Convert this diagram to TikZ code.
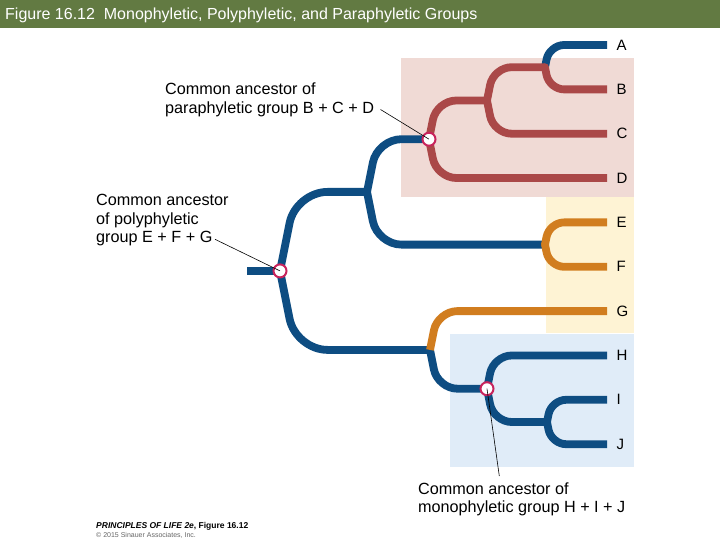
\documentclass[tikz,border=0pt]{standalone}
\usepackage{fontspec}
\setmainfont{Liberation Sans}
\usetikzlibrary{calc}
\definecolor{cblue}{HTML}{0E4D82}
\definecolor{cred}{HTML}{AA4848}
\definecolor{corange}{HTML}{D17D1F}
\definecolor{cpink}{HTML}{F0DAD5}
\definecolor{cyel}{HTML}{FEF3D4}
\definecolor{clblue}{HTML}{E0ECF8}
\definecolor{cring}{HTML}{C8245C}
\definecolor{ctitle}{HTML}{627A42}
\newcommand\tbranch[4]{%
  \pgfmathsetmacro\brS{0.2*#4}%
  \pgfmathsetmacro\brR{0.3*#4+8}%
  \draw[#1, rounded corners=\brR pt] (#2) -- ($(#3 -| #2)+(\brS,0)$) -- (#3);}
\begin{document}
\begin{tikzpicture}[x=1pt,y=-1pt,
  br/.style={line width=7.8pt},
  bl/.style={br,draw=cblue},
  rd/.style={br,draw=cred},
  og/.style={br,draw=corange},
  anc/.style={circle,draw=cring,fill=white,line width=2pt,minimum size=13pt,inner sep=0pt},
  lab/.style={anchor=base west,inner sep=0pt,font=\fontsize{16.2}{18}\selectfont},
  tip/.style={anchor=west,inner sep=0pt,font=\fontsize{15}{17}\selectfont},
  ptr/.style={draw=black,line width=0.6pt}
]
\useasboundingbox (0,0) rectangle (720,540);
\fill[white] (0,0) rectangle (720,540);
\fill[ctitle] (0,0) rectangle (720,28);
\node[anchor=base west,text=white,inner sep=0pt,font=\fontsize{16}{18}\selectfont] (title) at (5,19.5)
  {Figure 16.12\ \ Monophyletic, Polyphyletic, and Paraphyletic Groups};
% backgrounds
\fill[cpink] (401,58) rectangle (634,197.5);
\fill[cyel] (546,197.5) rectangle (634,333);
\fill[clblue] (450,334) rectangle (634,467);
% tips
\coordinate (tA) at (607,45);
\coordinate (tB) at (607,89.4);
\coordinate (tC) at (607,133.7);
\coordinate (tD) at (607,178);
\coordinate (tE) at (607,222.4);
\coordinate (tF) at (607,266.8);
\coordinate (tG) at (607,311.1);
\coordinate (tH) at (607,355.5);
\coordinate (tI) at (607,399.8);
\coordinate (tJ) at (607,444.2);
% internal nodes
\coordinate (AB) at (545,67.2);
\coordinate (X1) at (487,100.5);
\coordinate (P) at (429,139.2);
\coordinate (EF) at (545,244.6);
\coordinate (N1) at (367,191.9);
\coordinate (IJ) at (547,422);
\coordinate (HIJ) at (487,388.7);
\coordinate (N2) at (430,349.9);
\coordinate (R) at (280,270.9);
\coordinate (stub) at (247,270.9);
% blue branches
\draw[bl] (stub) -- (R);
\tbranch{bl}{R}{N1}{79}
\tbranch{bl}{R}{N2}{79}
\tbranch{bl}{N1}{P}{52.7}
\tbranch{bl}{N1}{EF}{52.7}
\tbranch{bl}{AB}{tA}{22.2}
\tbranch{bl}{N2}{HIJ}{38.8}
\tbranch{bl}{HIJ}{tH}{33.2}
\tbranch{bl}{HIJ}{IJ}{33.3}
\tbranch{bl}{IJ}{tI}{22.2}
\tbranch{bl}{IJ}{tJ}{22.2}
\fill[cblue] (N1) circle (3.9pt) (N2) circle (3.9pt) (IJ) circle (3.9pt);
% red branches
\tbranch{rd}{P}{X1}{38.7}
\tbranch{rd}{P}{tD}{38.8}
\tbranch{rd}{X1}{AB}{33.3}
\tbranch{rd}{X1}{tC}{33.2}
\tbranch{rd}{AB}{tB}{22.2}
\fill[cred] (X1) circle (3.9pt) (AB) circle (3.9pt);
% orange branches
\tbranch{og}{EF}{tE}{22.2}
\tbranch{og}{EF}{tF}{22.2}
\tbranch{og}{N2}{tG}{38.8}
\fill[corange] (EF) circle (3.9pt);
% ancestor markers
\node[anc] (cP) at (P) {};
\node[anc] (cR) at (R) {};
\node[anc] (cHIJ) at (HIJ) {};
% tip labels
\node[tip] (lA) at (616.5,45) {A};
\node[tip] (lB) at (616.5,89.4) {B};
\node[tip] (lC) at (616.5,133.7) {C};
\node[tip] (lD) at (616.5,178) {D};
\node[tip] (lE) at (616.5,222.4) {E};
\node[tip] (lF) at (616.5,266.8) {F};
\node[tip] (lG) at (616.5,311.1) {G};
\node[tip] (lH) at (616.5,355.5) {H};
\node[tip] (lI) at (616.5,399.8) {I};
\node[tip] (lJ) at (616.5,444.2) {J};
% annotations
\node[lab] (para1) at (165,95) {Common ancestor of};
\node[lab] (para2) at (165,113.3) {paraphyletic group B + C + D};
\node[lab] (poly1) at (96,206) {Common ancestor};
\node[lab] (poly2) at (96,224.3) {of polyphyletic};
\node[lab] (poly3) at (96,242.6) {group E + F + G};
\node[lab] (mono1) at (418,494) {Common ancestor of};
\node[lab] (mono2) at (418,512) {monophyletic group H + I + J};
\coordinate (paraEnd) at (380.5,109.5);
\coordinate (polyEnd) at (215,239.3);
\coordinate (monoEnd) at (499.3,476);
\draw[ptr] (paraEnd) -- (P);
\draw[ptr] (polyEnd) -- (R);
\draw[ptr] (monoEnd) -- (HIJ);
% footer
\node[anchor=base west,inner sep=0pt,font=\fontsize{8.5}{10}\selectfont\bfseries] (foot1) at (96,528)
  {\itshape PRINCIPLES OF LIFE 2e\upshape, Figure 16.12};
\node[anchor=base west,inner sep=0pt,text=black!60,font=\fontsize{7}{8}\selectfont] (foot2) at (96,537.5)
  {\textcopyright\ 2015 Sinauer Associates, Inc.};
\end{tikzpicture}
\end{document}
